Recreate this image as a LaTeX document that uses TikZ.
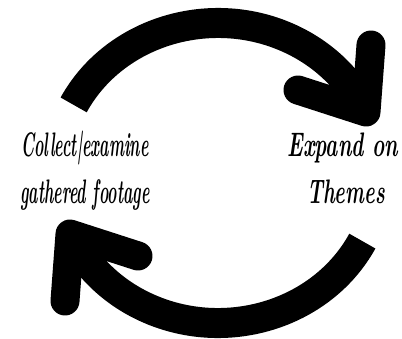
\documentclass[tikz,border=0pt]{standalone}
\usepackage{tikz}
\newcommand{\cyclelabel}[1]{{\fontsize{34}{36}\selectfont\bfseries\itshape #1}}
\tikzset{
  looparc/.style={line width=30pt, line cap=butt},
  loophead/.style={line width=29pt, line cap=round, line join=round},
  steplabel/.style={anchor=base, inner sep=0pt, xscale=.47}
}

\begin{document}
\begin{tikzpicture}[x=1pt,y=1pt]
    \useasboundingbox (-218,-165) rectangle (184,173);
    % upper arrow, clockwise
    \draw[looparc] (153:162 and 150) arc[start angle=153, end angle=24, x radius=162, y radius=150] coordinate (toptip);
    \coordinate (topup) at (153,128);
    \coordinate (topleft) at (80,83);
    \draw[loophead] (topup) -- (toptip) -- (topleft);
    % lower arrow, same turn
    \draw[looparc] (-27:162 and 150) arc[start angle=-27, end angle=-156, x radius=162, y radius=150] coordinate (bottip);
    \coordinate (botdown) at (-153,-128);
    \coordinate (botright) at (-80,-83);
    \draw[loophead] (botdown) -- (bottip) -- (botright);
    \node[steplabel] (collect) at (-133,17) {\cyclelabel{Collect|examine}};
    \node[steplabel] (gathered) at (-133,-30) {\cyclelabel{gathered footage}};
    \node[steplabel, xscale=1.3] (expand) at (125,17) {\cyclelabel{Expand on}};
    \node[steplabel, xscale=1.25] (themes) at (128,-30) {\cyclelabel{Themes}};
\end{tikzpicture}
\end{document}
